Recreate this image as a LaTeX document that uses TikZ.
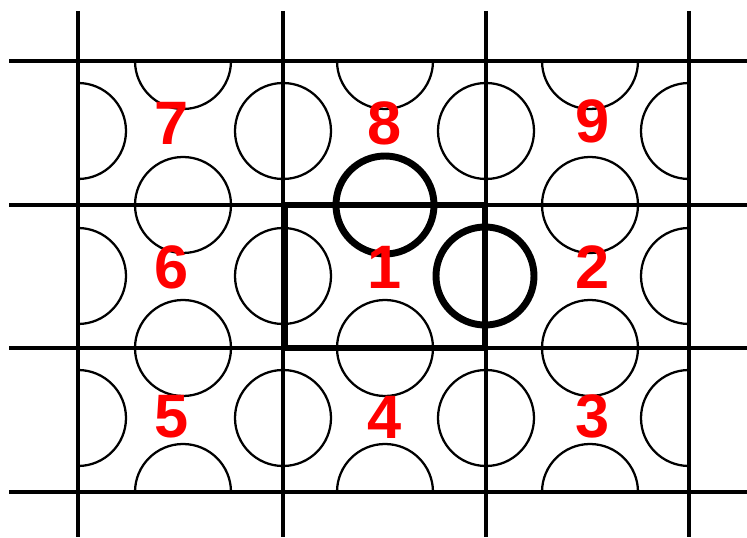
\documentclass[tikz,border=0pt]{standalone}
\usepackage{fontspec}
\setmainfont{Liberation Sans}
\begin{document}
\begin{tikzpicture}[x=0.75pt,y=-0.75pt]
    \useasboundingbox (0,0) rectangle (747,538);
    % half and whole discs on the cell edges
    \begin{scope}
    \clip (78,61) rectangle (689,492);
    \draw[black, line width=1.7pt] (78,131) circle (48);
    \draw[black, line width=1.7pt] (78,276) circle (48);
    \draw[black, line width=1.7pt] (78,418) circle (48);
    \draw[black, line width=1.7pt] (283,131) circle (48);
    \draw[black, line width=1.7pt] (283,276) circle (48);
    \draw[black, line width=1.7pt] (283,418) circle (48);
    \draw[black, line width=1.7pt] (486,131) circle (48);
    \draw[black, line width=1.7pt] (486,418) circle (48);
    \draw[black, line width=1.7pt] (689,131) circle (48);
    \draw[black, line width=1.7pt] (689,276) circle (48);
    \draw[black, line width=1.7pt] (689,418) circle (48);
    \draw[black, line width=1.7pt] (183,61) circle (48);
    \draw[black, line width=1.7pt] (385,61) circle (48);
    \draw[black, line width=1.7pt] (590,61) circle (48);
    \draw[black, line width=1.7pt] (183,205) circle (48);
    \draw[black, line width=1.7pt] (590,205) circle (48);
    \draw[black, line width=1.7pt] (183,348) circle (48);
    \draw[black, line width=1.7pt] (385,348) circle (48);
    \draw[black, line width=1.7pt] (590,348) circle (48);
    \draw[black, line width=1.7pt] (183,492) circle (48);
    \draw[black, line width=1.7pt] (385,492) circle (48);
    \draw[black, line width=1.7pt] (590,492) circle (48);
    \end{scope}
    % grid
    \draw[black, line width=2.5pt] (78,11) -- (78,537);
    \draw[black, line width=2.5pt] (283,11) -- (283,537);
    \draw[black, line width=2.5pt] (486,11) -- (486,537);
    \draw[black, line width=2.5pt] (689,11) -- (689,537);
    \draw[black, line width=2.5pt] (9,61) -- (747,61);
    \draw[black, line width=2.5pt] (9,205) -- (747,205);
    \draw[black, line width=2.5pt] (9,348) -- (747,348);
    \draw[black, line width=2.5pt] (9,492) -- (747,492);
    % centre cell
    \draw[black, line width=4pt] (285,205) rectangle (485,348);
    \draw[black, line width=5.2pt] (385,205) circle (49);
    \draw[black, line width=5.2pt] (485,276) circle (49);
    % cell numbers
    \node[text=red, font=\fontsize{46}{46}\selectfont\bfseries] (n7) at (172,123) {7};
    \node[text=red, font=\fontsize{46}{46}\selectfont\bfseries] (n8) at (385,123) {8};
    \node[text=red, font=\fontsize{46}{46}\selectfont\bfseries] (n9) at (593,121) {9};
    \node[text=red, font=\fontsize{46}{46}\selectfont\bfseries] (n6) at (172,267) {6};
    \node[text=red, font=\fontsize{46}{46}\selectfont\bfseries] (n1) at (385,267) {1};
    \node[text=red, font=\fontsize{46}{46}\selectfont\bfseries] (n2) at (593,267) {2};
    \node[text=red, font=\fontsize{46}{46}\selectfont\bfseries] (n5) at (172,417) {5};
    \node[text=red, font=\fontsize{46}{46}\selectfont\bfseries] (n4) at (385,417) {4};
    \node[text=red, font=\fontsize{46}{46}\selectfont\bfseries] (n3) at (593,416) {3};
\end{tikzpicture}
\end{document}
